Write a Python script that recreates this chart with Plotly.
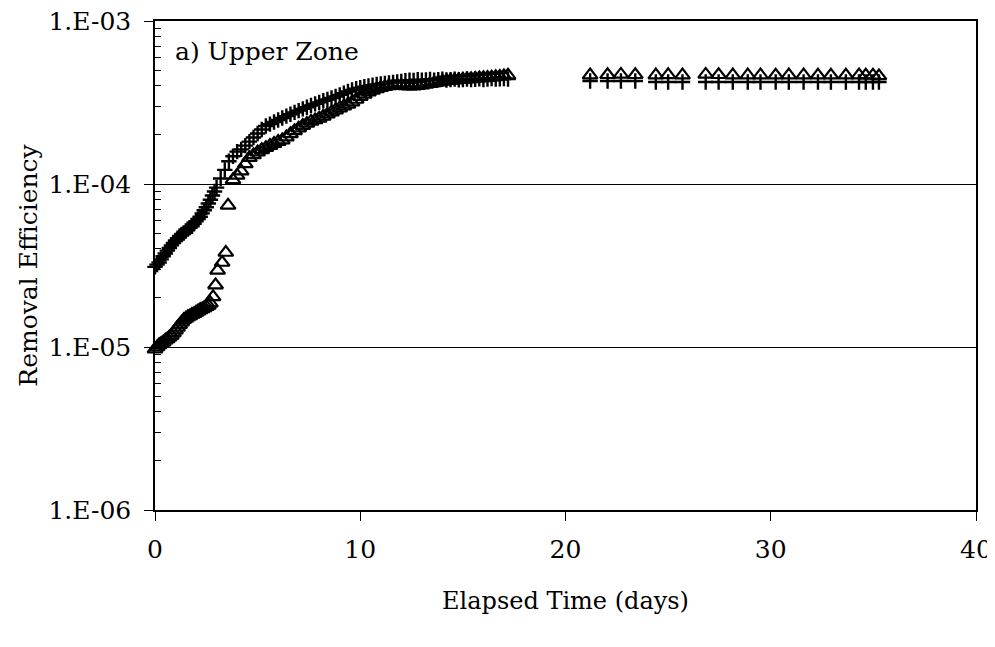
import plotly.graph_objects as go

# ---- data ----
cross_t = [0.0, 0.2, 0.4, 0.6, 0.8, 1.0, 1.2, 1.4, 1.6, 1.8, 2.0, 2.2, 2.4, 2.6, 2.8,
           3.0, 3.2, 3.4, 3.6, 3.8, 4.0, 4.2, 4.4, 4.6, 4.8, 5.0, 5.2, 5.4, 5.6, 5.8,
           6.0, 6.2, 6.4, 6.6, 6.8, 7.0, 7.2, 7.4, 7.6, 7.8, 8.0, 8.2, 8.4, 8.6, 8.8,
           9.0, 9.2, 9.4, 9.6, 9.8, 10.0, 10.2, 10.4, 10.6, 10.8, 11.0, 11.2, 11.4, 11.6, 11.8,
           12.0, 12.2, 12.4, 12.6, 12.8, 13.0, 13.2, 13.4, 13.6, 13.8, 14.0, 14.2, 14.4, 14.6,
           14.8, 15.0, 15.2, 15.4, 15.6, 15.8, 16.0, 16.2, 16.4, 16.6, 16.8, 17.0, 17.2,
           0.1, 0.3, 0.5, 0.7, 0.9, 1.1, 1.3, 1.5, 1.7, 1.9, 2.1, 2.3, 2.5, 2.7, 2.9,
           21.2, 22.05, 22.7, 23.4, 24.4, 25.0, 25.7, 26.83, 27.46, 28.15, 28.88, 29.5,
           30.24, 30.88, 31.6, 32.3, 32.93, 33.66, 34.3, 34.63, 34.98, 35.27]
cross_v = [3.1e-5, 3.3e-5, 3.6e-5, 3.9e-5, 4.2e-5, 4.5e-5, 4.8e-5, 5.0e-5, 5.3e-5, 5.5e-5,
           5.9e-5, 6.3e-5, 6.9e-5, 7.6e-5, 8.5e-5, 9.5e-5, 1.08e-4, 1.22e-4, 1.38e-4, 1.48e-4,
           1.58e-4, 1.63e-4, 1.72e-4, 1.82e-4, 1.93e-4, 2.04e-4, 2.16e-4, 2.27e-4, 2.33e-4, 2.40e-4,
           2.47e-4, 2.54e-4, 2.61e-4, 2.68e-4, 2.75e-4, 2.82e-4, 2.89e-4, 2.96e-4, 3.03e-4, 3.10e-4,
           3.17e-4, 3.24e-4, 3.30e-4, 3.37e-4, 3.44e-4, 3.52e-4, 3.60e-4, 3.69e-4, 3.77e-4, 3.84e-4,
           3.90e-4, 3.95e-4, 4.00e-4, 4.04e-4, 4.08e-4, 4.11e-4, 4.14e-4, 4.17e-4, 4.20e-4, 4.23e-4,
           4.25e-4, 4.30e-4, 4.34e-4, 4.32e-4, 4.36e-4, 4.33e-4, 4.35e-4, 4.38e-4, 4.34e-4, 4.36e-4,
           4.39e-4, 4.35e-4, 4.37e-4, 4.40e-4, 4.36e-4, 4.38e-4, 4.41e-4, 4.37e-4, 4.39e-4, 4.42e-4,
           4.38e-4, 4.40e-4, 4.43e-4, 4.40e-4, 4.42e-4, 4.44e-4, 4.41e-4,
           3.2e-5, 3.45e-5, 3.75e-5, 4.05e-5, 4.35e-5, 4.65e-5, 4.9e-5, 5.15e-5, 5.4e-5, 5.7e-5,
           6.1e-5, 6.6e-5, 7.2e-5, 8.0e-5, 9.0e-5,
           4.28e-4, 4.28e-4, 4.28e-4, 4.28e-4, 4.22e-4, 4.22e-4, 4.22e-4, 4.22e-4, 4.22e-4,
           4.22e-4, 4.22e-4, 4.22e-4, 4.22e-4, 4.22e-4, 4.22e-4, 4.22e-4, 4.22e-4, 4.22e-4,
           4.22e-4, 4.22e-4, 4.22e-4, 4.22e-4]

tri_t = [0.0, 0.2, 0.4, 0.6, 0.8, 1.0, 1.2, 1.4, 1.6, 1.8, 2.0, 2.2, 2.4, 2.6,
         0.1, 0.3, 0.5, 0.7, 0.9, 1.1, 1.3, 1.5, 1.7, 1.9, 2.1, 2.3, 2.5,
         2.7, 2.83, 2.95, 3.05, 3.27, 3.45, 3.56,
         3.8, 4.0, 4.2, 4.4, 4.6, 4.8, 5.0, 5.2, 5.4, 5.6, 5.8, 6.0, 6.2, 6.4, 6.6, 6.8,
         7.0, 7.2, 7.4, 7.6, 7.8, 8.0, 8.2, 8.4, 8.6, 8.8, 9.0, 9.2, 9.4, 9.6, 9.8,
         10.0, 10.2, 10.4, 10.6, 10.8, 11.0, 11.2, 11.4, 11.6, 11.8, 12.0, 12.2, 12.4,
         12.6, 12.8, 13.0, 13.2, 13.4, 13.6, 13.8, 14.0, 14.2, 14.4, 14.6, 14.8, 15.0,
         15.2, 15.4, 15.6, 15.8, 16.0, 16.2, 16.4, 16.6, 16.8, 17.0, 17.2,
         21.2, 22.05, 22.7, 23.4, 24.4, 25.0, 25.7, 26.83, 27.46, 28.15, 28.88, 29.5,
         30.24, 30.88, 31.6, 32.3, 32.93, 33.66, 34.3, 34.63, 34.98, 35.27]
tri_v = [0.97e-5, 1.03e-5, 1.07e-5, 1.12e-5, 1.18e-5, 1.27e-5, 1.37e-5, 1.47e-5, 1.53e-5,
         1.58e-5, 1.63e-5, 1.69e-5, 1.74e-5, 1.80e-5,
         1.0e-5, 1.05e-5, 1.10e-5, 1.15e-5, 1.22e-5, 1.32e-5, 1.42e-5, 1.50e-5, 1.55e-5,
         1.60e-5, 1.66e-5, 1.71e-5, 1.77e-5,
         1.86e-5, 2.03e-5, 2.4e-5, 2.95e-5, 3.3e-5, 3.8e-5, 7.4e-5,
         1.06e-4, 1.13e-4, 1.20e-4, 1.33e-4, 1.45e-4, 1.51e-4, 1.57e-4, 1.62e-4, 1.67e-4,
         1.72e-4, 1.77e-4, 1.82e-4, 1.86e-4, 1.94e-4, 2.03e-4, 2.12e-4, 2.20e-4, 2.28e-4,
         2.35e-4, 2.42e-4, 2.47e-4, 2.53e-4, 2.60e-4, 2.68e-4, 2.76e-4, 2.84e-4, 2.92e-4,
         3.00e-4, 3.08e-4, 3.18e-4, 3.30e-4, 3.43e-4, 3.55e-4, 3.66e-4, 3.75e-4, 3.83e-4,
         3.90e-4, 3.95e-4, 4.00e-4, 4.02e-4, 4.03e-4, 4.02e-4, 4.00e-4, 3.98e-4, 3.99e-4,
         4.01e-4, 4.04e-4, 4.08e-4, 4.12e-4, 4.17e-4, 4.22e-4, 4.26e-4, 4.30e-4, 4.32e-4,
         4.34e-4, 4.36e-4, 4.38e-4, 4.40e-4, 4.42e-4, 4.44e-4, 4.46e-4, 4.48e-4, 4.50e-4,
         4.52e-4, 4.54e-4, 4.57e-4, 4.60e-4, 4.64e-4,
         4.66e-4, 4.68e-4, 4.70e-4, 4.68e-4, 4.66e-4, 4.67e-4, 4.66e-4, 4.70e-4, 4.68e-4,
         4.66e-4, 4.66e-4, 4.66e-4, 4.65e-4, 4.66e-4, 4.66e-4, 4.65e-4, 4.65e-4, 4.65e-4,
         4.66e-4, 4.65e-4, 4.64e-4, 4.60e-4]

y_tickvals = [1e-6, 1e-5, 1e-4, 1e-3]
y_ticktext = ["1.E-06", "1.E-05", "1.E-04", "1.E-03"]
y_minorvals = [m * d for d in (1e-6, 1e-5, 1e-4) for m in (2, 3, 4, 5, 6, 7, 8, 9)]
x_tickvals = [0, 10, 20, 30, 40]

FONT = "DejaVu Serif"

fig = go.Figure()
fig.add_trace(go.Scatter(
    x=cross_t, y=cross_v, mode="markers", name="cross",
    marker=dict(symbol="cross-thin-open", size=11, color="black",
                line=dict(color="black", width=2.4)),
    cliponaxis=False,
))
fig.add_trace(go.Scatter(
    x=tri_t, y=tri_v, mode="markers", name="triangle",
    marker=dict(symbol="triangle-up-open", size=13, color="black",
                line=dict(color="black", width=2.2)),
    cliponaxis=False,
))

fig.update_layout(
    width=987, height=639,
    margin=dict(l=147, r=19, t=13, b=137),
    plot_bgcolor="white", paper_bgcolor="white",
    showlegend=False,
    font=dict(family=FONT, size=24, color="black"),
    xaxis=dict(
        range=[0, 40], tickmode="array", tickvals=x_tickvals,
        ticks="outside", ticklen=9, tickwidth=1, tickcolor="black",
        showline=True, linecolor="black", linewidth=1.5, mirror=True,
        showgrid=False, zeroline=False,
        tickfont=dict(family=FONT, size=25), ticklabelstandoff=7,
        ticklabeloverflow="allow",
        title=dict(text="Elapsed Time (days)", font=dict(family=FONT, size=24), standoff=29),
        automargin=False,
    ),
    yaxis=dict(
        type="log", range=[-6, -3], tickmode="array",
        tickvals=y_tickvals, ticktext=y_ticktext,
        ticks="outside", ticklen=9, tickwidth=1, tickcolor="black",
        showline=True, linecolor="black", linewidth=1.5, mirror=True,
        showgrid=True, gridcolor="black", gridwidth=1, zeroline=False,
        minor=dict(tickmode="array", tickvals=y_minorvals, ticks="inside",
                   ticklen=6, tickwidth=1, tickcolor="black", showgrid=False),
        tickfont=dict(family=FONT, size=25), ticklabelstandoff=8,
        ticklabeloverflow="allow",
        title=dict(text="Removal Efficiency", font=dict(family=FONT, size=25), standoff=4),
        automargin=False,
    ),
    annotations=[dict(
        text="a) Upper Zone", xref="paper", yref="paper",
        x=0.022, y=0.937, xanchor="left", yanchor="middle",
        showarrow=False, font=dict(family=FONT, size=25, color="black"),
    )],
)

fig.write_html("out.html")
